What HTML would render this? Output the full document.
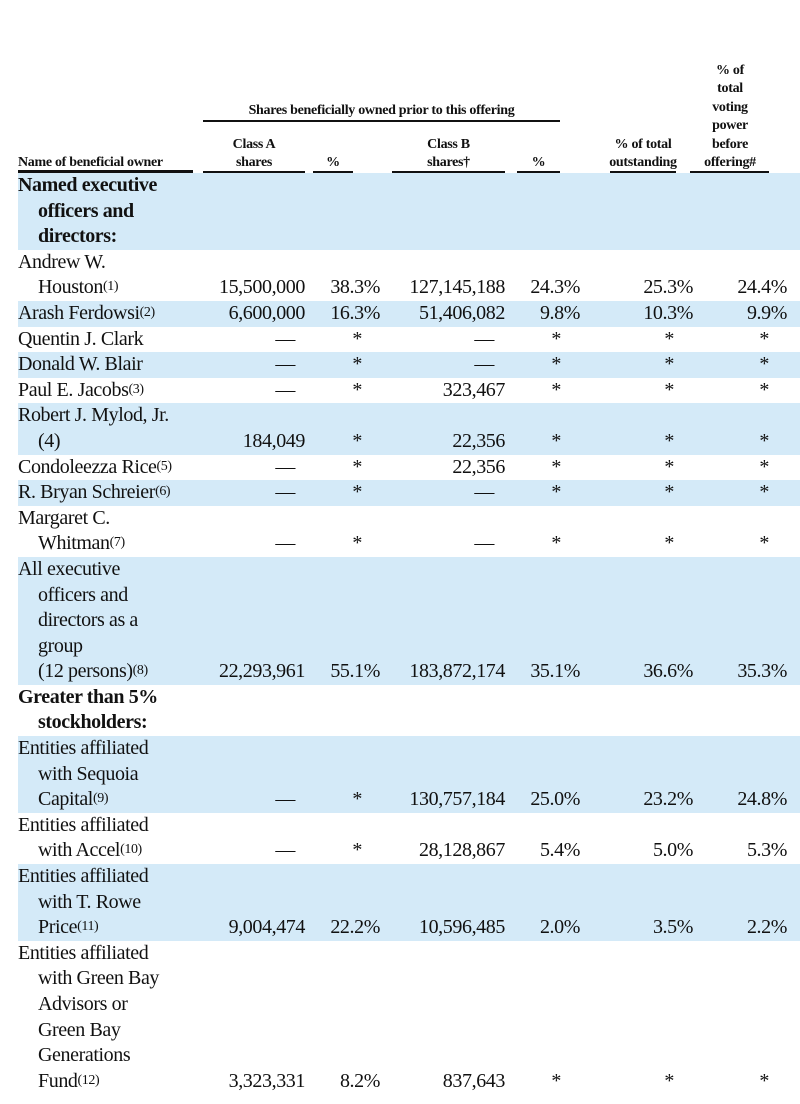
<!DOCTYPE html>
<html><head><meta charset="utf-8"><style>
body{margin:0;width:800px;height:1104px;background:#fff;position:relative;overflow:hidden;font-family:"Liberation Serif",serif;color:#111}
.h{position:absolute;font-weight:bold;font-size:14px;line-height:18.4px;text-align:center;letter-spacing:-0.3px;z-index:2}
.u{position:absolute;height:1.5px;background:#111;z-index:2}
table{position:absolute;left:0;top:173px;border-collapse:collapse;font-size:20px;letter-spacing:-0.4px;width:800px}
td{padding:0;line-height:25.6px;vertical-align:bottom;text-align:right;white-space:nowrap}
td.n{text-align:left;padding-left:18px;width:182px;white-space:normal}
.i{padding-left:20px}
tr.b td{background:#d4eaf8}
tr.b td:first-child{background:linear-gradient(to right,#fff 18px,#d4eaf8 18px)}
sup{font-size:14px;vertical-align:3px;line-height:0}
.c1{width:105px}.c2{width:75px}.c3{width:125px}.c4{width:75px}.c5{width:113px}.c6{width:94px}.c7{width:13px}
.s1{padding-right:18px}.s2{padding-right:19px}.s3{padding-right:19px}.s4{padding-right:18px}
.d1{padding-right:10px}.d2{padding-right:11px}
.bold{font-weight:bold}
</style></head><body>
<div class="h" style="left:203px;width:357px;top:102px">Shares beneficially owned prior to this offering</div>
<div class="u" style="left:203px;width:357px;top:120px"></div>
<div class="h" style="left:18px;width:175px;top:154px;text-align:left">Name of beneficial owner</div>
<div class="u" style="left:18px;width:175px;top:170px;height:3px"></div>
<div class="h" style="left:203px;width:102px;top:136px">Class A<br>shares</div>
<div class="u" style="left:203px;width:102px;top:171px"></div>
<div class="h" style="left:313px;width:40px;top:154px">%</div>
<div class="u" style="left:313px;width:40px;top:171px"></div>
<div class="h" style="left:392px;width:113px;top:136px">Class B<br>shares†</div>
<div class="u" style="left:392px;width:113px;top:171px"></div>
<div class="h" style="left:517px;width:43px;top:154px">%</div>
<div class="u" style="left:517px;width:43px;top:171px"></div>
<div class="h" style="left:598px;width:90px;top:136px">% of total<br>outstanding</div>
<div class="u" style="left:610px;width:66px;top:171px"></div>
<div class="h" style="left:686px;width:88px;top:62px">% of<br>total<br>voting<br>power<br>before<br>offering#</div>
<div class="u" style="left:690px;width:79px;top:171px"></div>
<table>
<tr class="b"><td class="n bold">Named executive<div class="i">officers and<br>directors:</div></td><td class="c1"></td><td class="c2"></td><td class="c3"></td><td class="c4"></td><td class="c5"></td><td class="c6"></td><td class="c7"></td></tr>
<tr><td class="n">Andrew W.<div class="i">Houston<sup>(1)</sup></div></td><td>15,500,000</td><td>38.3%</td><td>127,145,188</td><td>24.3%</td><td>25.3%</td><td>24.4%</td><td></td></tr>
<tr class="b"><td class="n">Arash Ferdowsi<sup>(2)</sup></td><td>6,600,000</td><td>16.3%</td><td>51,406,082</td><td>9.8%</td><td>10.3%</td><td>9.9%</td><td></td></tr>
<tr><td class="n">Quentin J. Clark</td><td class="d1">—</td><td class="s1">*</td><td class="d2">—</td><td class="s2">*</td><td class="s3">*</td><td class="s4">*</td><td></td></tr>
<tr class="b"><td class="n">Donald W. Blair</td><td class="d1">—</td><td class="s1">*</td><td class="d2">—</td><td class="s2">*</td><td class="s3">*</td><td class="s4">*</td><td></td></tr>
<tr><td class="n">Paul E. Jacobs<sup>(3)</sup></td><td class="d1">—</td><td class="s1">*</td><td>323,467</td><td class="s2">*</td><td class="s3">*</td><td class="s4">*</td><td></td></tr>
<tr class="b"><td class="n">Robert J. Mylod, Jr.<div class="i">(4)</div></td><td>184,049</td><td class="s1">*</td><td>22,356</td><td class="s2">*</td><td class="s3">*</td><td class="s4">*</td><td></td></tr>
<tr><td class="n">Condoleezza Rice<sup>(5)</sup></td><td class="d1">—</td><td class="s1">*</td><td>22,356</td><td class="s2">*</td><td class="s3">*</td><td class="s4">*</td><td></td></tr>
<tr class="b"><td class="n">R. Bryan Schreier<sup>(6)</sup></td><td class="d1">—</td><td class="s1">*</td><td class="d2">—</td><td class="s2">*</td><td class="s3">*</td><td class="s4">*</td><td></td></tr>
<tr><td class="n">Margaret C.<div class="i">Whitman<sup>(7)</sup></div></td><td class="d1">—</td><td class="s1">*</td><td class="d2">—</td><td class="s2">*</td><td class="s3">*</td><td class="s4">*</td><td></td></tr>
<tr class="b"><td class="n">All executive<div class="i">officers and<br>directors as a<br>group<br>(12 persons)<sup>(8)</sup></div></td><td>22,293,961</td><td>55.1%</td><td>183,872,174</td><td>35.1%</td><td>36.6%</td><td>35.3%</td><td></td></tr>
<tr><td class="n bold">Greater than 5%<div class="i">stockholders:</div></td><td></td><td></td><td></td><td></td><td></td><td></td><td></td></tr>
<tr class="b"><td class="n">Entities affiliated<div class="i">with Sequoia<br>Capital<sup>(9)</sup></div></td><td class="d1">—</td><td class="s1">*</td><td>130,757,184</td><td>25.0%</td><td>23.2%</td><td>24.8%</td><td></td></tr>
<tr><td class="n">Entities affiliated<div class="i">with Accel<sup>(10)</sup></div></td><td class="d1">—</td><td class="s1">*</td><td>28,128,867</td><td>5.4%</td><td>5.0%</td><td>5.3%</td><td></td></tr>
<tr class="b"><td class="n">Entities affiliated<div class="i">with T. Rowe<br>Price<sup>(11)</sup></div></td><td>9,004,474</td><td>22.2%</td><td>10,596,485</td><td>2.0%</td><td>3.5%</td><td>2.2%</td><td></td></tr>
<tr><td class="n">Entities affiliated<div class="i">with Green Bay<br>Advisors or<br>Green Bay<br>Generations<br>Fund<sup>(12)</sup></div></td><td>3,323,331</td><td>8.2%</td><td>837,643</td><td class="s2">*</td><td class="s3">*</td><td class="s4">*</td><td></td></tr>
</table>
</body></html>
